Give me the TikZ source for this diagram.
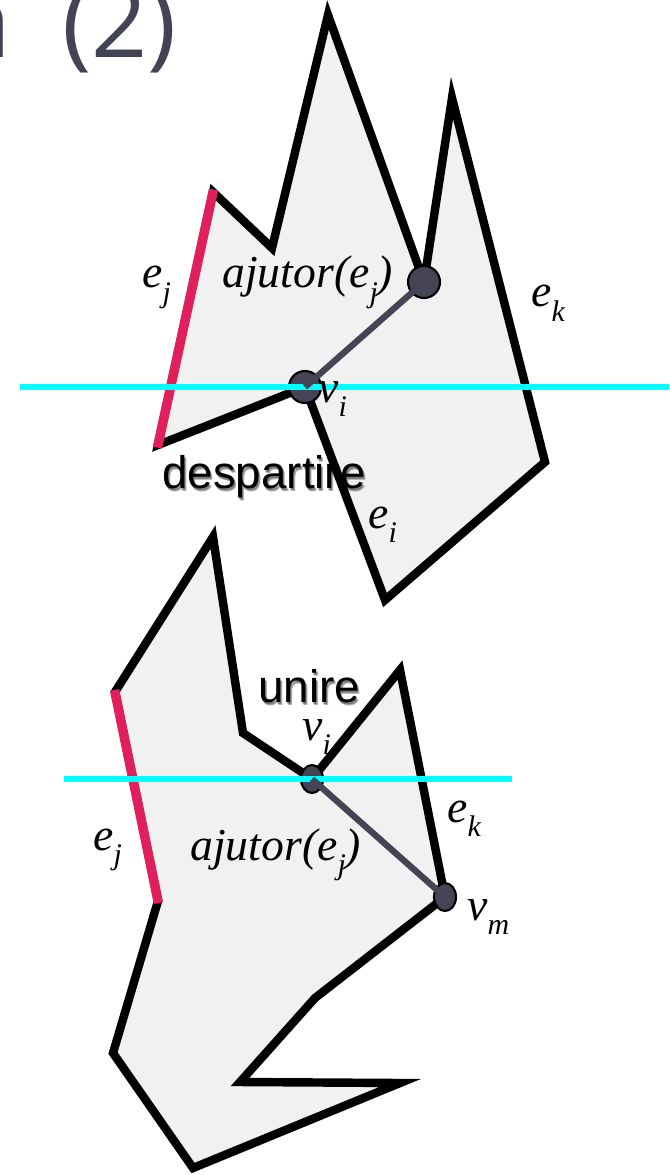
\documentclass[tikz,border=0pt]{standalone}
\usepackage{fontspec}
\usetikzlibrary{calc}
\setmainfont{Liberation Serif}
\newfontfamily\arialfont{Liberation Sans}
\newfontfamily\titlefont{Open Sans}

\definecolor{polyfill}{HTML}{F1F1F1}
\definecolor{edgered}{HTML}{E0205A}
\definecolor{slate}{HTML}{444455}
\definecolor{titlegray}{HTML}{424456}
\definecolor{sweepcyan}{RGB}{0,255,255}

% subscript in labels
\newcommand\sbs[1]{\raisebox{-0.32em}{\fontsize{17}{17}\selectfont #1}}

\tikzset{
  polyline/.style={draw=black, fill=polyfill, line width=4.8pt, line join=miter},
  rededge/.style={draw=edgered, line width=5.4pt},
  sweep/.style={draw=sweepcyan, line width=3.4pt},
  helperline/.style={draw=slate, line width=3.6pt},
  vdot/.style={fill=slate, draw=black, line width=1.2pt},
  lbl/.style={inner sep=0pt, anchor=base west, font=\fontsize{26}{30}\selectfont\itshape},
  word/.style={inner sep=0pt, anchor=base west, font=\fontsize{26}{30}\selectfont\arialfont},
  wordshadow/.style={word, text=black, opacity=0.3},
  title/.style={inner sep=0pt, anchor=base east, text=titlegray, font=\fontsize{56}{60}\selectfont\titlefont}
}

\begin{document}
\begin{tikzpicture}[x=0.02cm, y=-0.02cm]

  \useasboundingbox (0,0) rectangle (669,1175);
  \clip (0,0) rectangle (669,1175);

  % Title (cut off at the edge)
  \node[title] (ttl) at (177,58) {a\hspace{0.26em} (2)};

  % Upper polygon: split vertex
  \coordinate (A1) at (213,192);
  \coordinate (A2) at (272,248);
  \coordinate (A3) at (328,15);
  \coordinate (A4) at (424,282);
  \coordinate (A5) at (452,98);
  \coordinate (A6) at (545,462);
  \coordinate (A7) at (385,600);
  \coordinate (A8) at (305,387);
  \coordinate (A9) at (158,445);
  \draw[polyline] (A1) -- (A2) -- (A3) -- (A4) -- (A5) -- (A6) -- (A7) -- (A8) -- (A9) -- cycle;
  \draw[rededge] ($(A1)!-0.01!(A9)$) -- ($(A9)!-0.01!(A1)$);

  % Sweep line
  \coordinate (L1) at (20,387);
  \coordinate (L2) at (669,387);
  \fill[vdot] (A4) circle[x radius=16, y radius=16];
  \fill[vdot] (A8) circle[x radius=16, y radius=16];
  \draw[sweep] (L1) -- (L2);
  \draw[helperline] (A8) -- (A4);

  % Labels
  \node[lbl] (ejA) at (142,288) {e\sbs{j}};
  \node[lbl] (helpA) at (222,288) {ajutor(e\sbs{j})};
  \node[lbl] (viA) at (318,402) {v\sbs{i}};
  \node[lbl] (ekA) at (531,307) {e\sbs{k}};
  \node[lbl] (eiA) at (368,528) {e\sbs{i}};
  \node[wordshadow] (despS) at (164,491) {despartire};
  \node[wordshadow] (despT) at (163,490) {despartire};
  \node[word] (desp) at (162,488) {despartire};

  % Lower polygon: merge vertex
  \coordinate (B1) at (213,537);
  \coordinate (B2) at (243,733);
  \coordinate (B3) at (312,779);
  \coordinate (B4) at (400,670);
  \coordinate (B5) at (445,897);
  \coordinate (B6) at (315,998);
  \coordinate (B7) at (240,1082);
  \coordinate (B8) at (400,1083);
  \coordinate (B9) at (193,1168);
  \coordinate (B10) at (113,1053);
  \coordinate (B11) at (158,901);
  \coordinate (B12) at (115,692);
  \draw[polyline] (B1) -- (B2) -- (B3) -- (B4) -- (B5) -- (B6) -- (B7) -- (B8) -- (B9) -- (B10) -- (B11) -- (B12) -- cycle;
  \draw[rededge] ($(B12)!-0.01!(B11)$) -- ($(B11)!-0.01!(B12)$);

  % Sweep line
  \coordinate (M1) at (64,779);
  \coordinate (M2) at (512,779);
  \fill[vdot] (B3) circle[x radius=11, y radius=14];
  \fill[vdot] (B5) circle[x radius=11, y radius=14];
  \draw[sweep] (M1) -- (M2);
  \draw[helperline] (B3) -- (B5);

  % Labels
  \node[wordshadow] (uniS) at (260,705) {unire};
  \node[wordshadow] (uniT) at (259,704) {unire};
  \node[word] (uni) at (258,702) {unire};
  \node[lbl] (viB) at (302,740) {v\sbs{i}};
  \node[lbl] (ekB) at (447,822) {e\sbs{k}};
  \node[lbl] (ejB) at (93,850) {e\sbs{j}};
  \node[lbl] (helpB) at (190,860) {ajutor(e\sbs{j})};
  \node[lbl] (vmB) at (467,920) {v\sbs{m}};

\end{tikzpicture}
\end{document}
